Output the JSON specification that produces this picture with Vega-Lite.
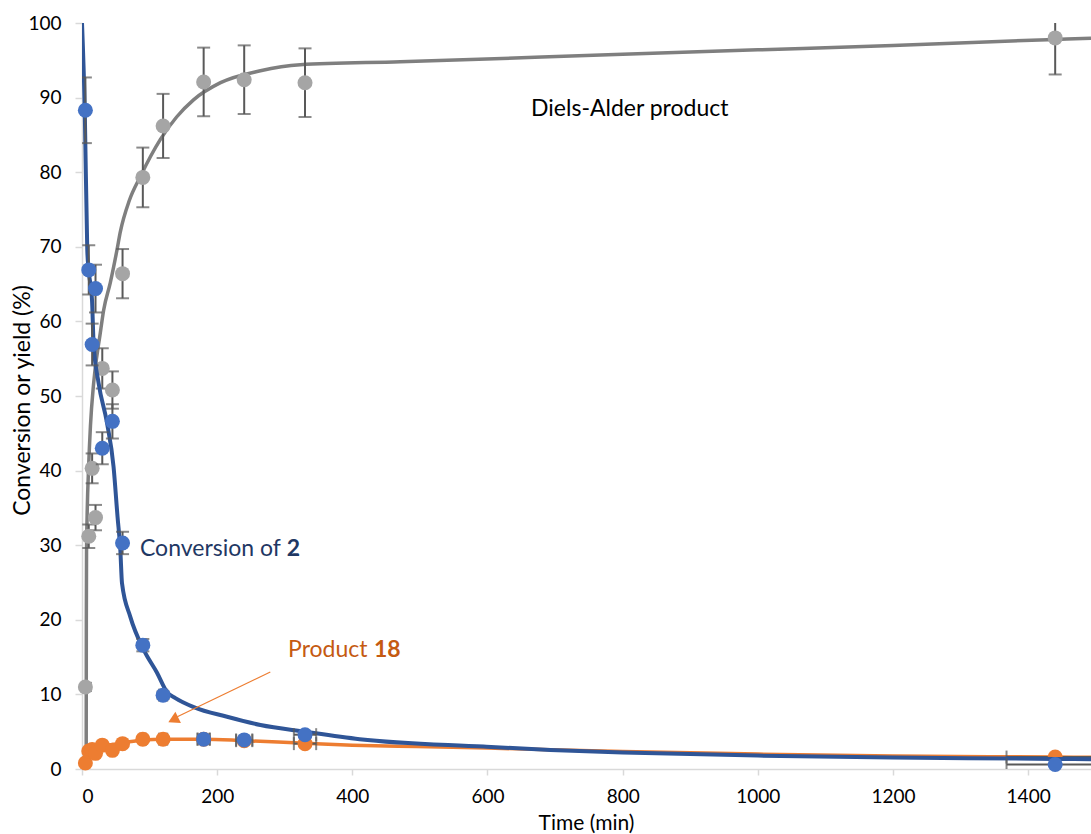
{
  "$schema": "https://vega.github.io/schema/vega-lite/v6.json",
  "width": 1009,
  "height": 746,
  "autosize": {"type": "none"},
  "padding": {"left": 82, "top": 23, "right": 0, "bottom": 65},
  "background": "white",
  "config": {"view": {"stroke": null}, "font": "Lato"},
  "datasets": {
    "pts": [
      {"s": "conv", "t": 5, "v": 88.3, "ye": 4.4, "xe": 0.25},
      {"s": "conv", "t": 10, "v": 66.9, "ye": 3.3, "xe": 0.5},
      {"s": "conv", "t": 15, "v": 56.9, "ye": 2.8, "xe": 0.75},
      {"s": "conv", "t": 20, "v": 64.4, "ye": 3.2, "xe": 1},
      {"s": "conv", "t": 30, "v": 43.0, "ye": 2.15, "xe": 1.5},
      {"s": "conv", "t": 45, "v": 46.6, "ye": 2.3, "xe": 2.25},
      {"s": "conv", "t": 60, "v": 30.3, "ye": 1.5, "xe": 3},
      {"s": "conv", "t": 90, "v": 16.6, "ye": 0.83, "xe": 4.5},
      {"s": "conv", "t": 120, "v": 9.9, "ye": 0.5, "xe": 6},
      {"s": "conv", "t": 180, "v": 4.0, "ye": 0.2, "xe": 9},
      {"s": "conv", "t": 240, "v": 3.9, "ye": 0.2, "xe": 12},
      {"s": "conv", "t": 330, "v": 4.6, "ye": 0.23, "xe": 16.5},
      {"s": "conv", "t": 1440, "v": 0.6, "ye": 0.03, "xe": 72},
      {"s": "DA", "t": 5, "v": 11.0, "ye": 0.55, "xe": 0},
      {"s": "DA", "t": 10, "v": 31.2, "ye": 1.56, "xe": 0},
      {"s": "DA", "t": 15, "v": 40.3, "ye": 2.0, "xe": 0},
      {"s": "DA", "t": 20, "v": 33.7, "ye": 1.7, "xe": 0},
      {"s": "DA", "t": 30, "v": 53.7, "ye": 2.7, "xe": 0},
      {"s": "DA", "t": 45, "v": 50.8, "ye": 2.5, "xe": 0},
      {"s": "DA", "t": 60, "v": 66.4, "ye": 3.3, "xe": 0},
      {"s": "DA", "t": 90, "v": 79.3, "ye": 4.0, "xe": 0},
      {"s": "DA", "t": 120, "v": 86.2, "ye": 4.3, "xe": 0},
      {"s": "DA", "t": 180, "v": 92.1, "ye": 4.6, "xe": 0},
      {"s": "DA", "t": 240, "v": 92.4, "ye": 4.6, "xe": 0},
      {"s": "DA", "t": 330, "v": 92.0, "ye": 4.6, "xe": 0},
      {"s": "DA", "t": 1440, "v": 98.0, "ye": 4.9, "xe": 0},
      {"s": "prod", "t": 5, "v": 0.8, "ye": 0.04, "xe": 0.25},
      {"s": "prod", "t": 10, "v": 2.4, "ye": 0.12, "xe": 0.5},
      {"s": "prod", "t": 15, "v": 2.6, "ye": 0.13, "xe": 0.75},
      {"s": "prod", "t": 20, "v": 2.1, "ye": 0.1, "xe": 1},
      {"s": "prod", "t": 30, "v": 3.2, "ye": 0.16, "xe": 1.5},
      {"s": "prod", "t": 45, "v": 2.5, "ye": 0.12, "xe": 2.25},
      {"s": "prod", "t": 60, "v": 3.4, "ye": 0.17, "xe": 3},
      {"s": "prod", "t": 90, "v": 4.0, "ye": 0.2, "xe": 4.5},
      {"s": "prod", "t": 120, "v": 4.0, "ye": 0.2, "xe": 6},
      {"s": "prod", "t": 180, "v": 4.0, "ye": 0.2, "xe": 9},
      {"s": "prod", "t": 240, "v": 3.8, "ye": 0.19, "xe": 12},
      {"s": "prod", "t": 330, "v": 3.4, "ye": 0.17, "xe": 16.5},
      {"s": "prod", "t": 1440, "v": 1.6, "ye": 0.08, "xe": 72}
    ],
    "fit": [
      {"s": "conv", "t": 0, "v": 100},
      {"s": "conv", "t": 4.1, "v": 88.2},
      {"s": "conv", "t": 7.8, "v": 69.6},
      {"s": "conv", "t": 9.8, "v": 66.9},
      {"s": "conv", "t": 14.8, "v": 62.9},
      {"s": "conv", "t": 17.2, "v": 57.0},
      {"s": "conv", "t": 24.6, "v": 51.7},
      {"s": "conv", "t": 37, "v": 46.4},
      {"s": "conv", "t": 46.7, "v": 40.5},
      {"s": "conv", "t": 52.6, "v": 33.8},
      {"s": "conv", "t": 56.7, "v": 29.4},
      {"s": "conv", "t": 59.2, "v": 24.9},
      {"s": "conv", "t": 71.5, "v": 20.4},
      {"s": "conv", "t": 91.2, "v": 16.0},
      {"s": "conv", "t": 111, "v": 12.9},
      {"s": "conv", "t": 125.9, "v": 10.3},
      {"s": "conv", "t": 138.2, "v": 9.5},
      {"s": "conv", "t": 165.3, "v": 8.3},
      {"s": "conv", "t": 214.7, "v": 7.0},
      {"s": "conv", "t": 264, "v": 5.9},
      {"s": "conv", "t": 330, "v": 5.0},
      {"s": "conv", "t": 411, "v": 4.0},
      {"s": "conv", "t": 594, "v": 3.0},
      {"s": "conv", "t": 693, "v": 2.55},
      {"s": "conv", "t": 800, "v": 2.2},
      {"s": "conv", "t": 1000, "v": 1.8},
      {"s": "conv", "t": 1200, "v": 1.55},
      {"s": "conv", "t": 1440, "v": 1.35},
      {"s": "conv", "t": 1493, "v": 1.3},
      {"s": "DA", "t": 6.2, "v": 0},
      {"s": "DA", "t": 6.4, "v": 20},
      {"s": "DA", "t": 6.7, "v": 29},
      {"s": "DA", "t": 7.6, "v": 34},
      {"s": "DA", "t": 9.8, "v": 40.5},
      {"s": "DA", "t": 12.5, "v": 46},
      {"s": "DA", "t": 17.2, "v": 51.7},
      {"s": "DA", "t": 27, "v": 58.4},
      {"s": "DA", "t": 32, "v": 61.5},
      {"s": "DA", "t": 41.9, "v": 65.2},
      {"s": "DA", "t": 51.8, "v": 69.6},
      {"s": "DA", "t": 56.7, "v": 72},
      {"s": "DA", "t": 70, "v": 76.2},
      {"s": "DA", "t": 86.2, "v": 79.4},
      {"s": "DA", "t": 116, "v": 84.4},
      {"s": "DA", "t": 140, "v": 87.4},
      {"s": "DA", "t": 165, "v": 89.7},
      {"s": "DA", "t": 205, "v": 92.0},
      {"s": "DA", "t": 264, "v": 93.6},
      {"s": "DA", "t": 323, "v": 94.4},
      {"s": "DA", "t": 471, "v": 94.8},
      {"s": "DA", "t": 800, "v": 95.8},
      {"s": "DA", "t": 1000, "v": 96.4},
      {"s": "DA", "t": 1200, "v": 97.0},
      {"s": "DA", "t": 1440, "v": 97.8},
      {"s": "DA", "t": 1493, "v": 97.95},
      {"s": "prod", "t": 3, "v": 0},
      {"s": "prod", "t": 5, "v": 1.0},
      {"s": "prod", "t": 8, "v": 2.0},
      {"s": "prod", "t": 12, "v": 2.6},
      {"s": "prod", "t": 20, "v": 2.9},
      {"s": "prod", "t": 30, "v": 3.1},
      {"s": "prod", "t": 45, "v": 3.3},
      {"s": "prod", "t": 60, "v": 3.5},
      {"s": "prod", "t": 90, "v": 3.9},
      {"s": "prod", "t": 120, "v": 4.0},
      {"s": "prod", "t": 180, "v": 4.0},
      {"s": "prod", "t": 240, "v": 3.8},
      {"s": "prod", "t": 330, "v": 3.45},
      {"s": "prod", "t": 400, "v": 3.2},
      {"s": "prod", "t": 495, "v": 3.0},
      {"s": "prod", "t": 600, "v": 2.8},
      {"s": "prod", "t": 800, "v": 2.35},
      {"s": "prod", "t": 1000, "v": 2.0},
      {"s": "prod", "t": 1200, "v": 1.75},
      {"s": "prod", "t": 1440, "v": 1.6},
      {"s": "prod", "t": 1493, "v": 1.57}
    ],
    "labels": [
      {"g": "da", "txt": "Diels-Alder product", "t": 664.5, "v": 87.5},
      {"g": "conv", "txt": "Conversion of", "t": 85.8, "v": 28.55},
      {"g": "convb", "txt": "2", "t": 303, "v": 28.55},
      {"g": "prod", "txt": "Product", "t": 304.9, "v": 15.0},
      {"g": "prodb", "txt": "18", "t": 432, "v": 15.0}
    ],
    "arrow": [
      {"t": 278.6, "v": 13.0},
      {"t": 141, "v": 7.0}
    ],
    "head": [
      {"t": 135, "v": 6.6}
    ]
  },
  "encoding": {
    "x": {
      "field": "t", "type": "quantitative",
      "scale": {"domain": [0, 1493], "nice": false, "zero": false},
      "title": "Time (min)",
      "axis": {
        "values": [0, 200, 400, 600, 800, 1000, 1200, 1400],
        "format": "d",
        "grid": false,
        "domainColor": "#d9d9d9", "domainWidth": 1.5,
        "tickColor": "#d9d9d9", "tickWidth": 1.5, "tickSize": 6,
        "labelFontSize": 19, "labelColor": "#000000", "labelPadding": 12,
        "labelFont": "Lato",
        "titleFontSize": 21, "titleColor": "#000000", "titleFontWeight": "normal",
        "titleFont": "Lato",
        "titleX": 504, "titleY": 60, "titleAlign": "center", "titleBaseline": "alphabetic"
      }
    },
    "y": {
      "field": "v", "type": "quantitative",
      "scale": {"domain": [0, 100], "nice": false},
      "title": "Conversion or yield (%)",
      "axis": {
        "values": [0, 10, 20, 30, 40, 50, 60, 70, 80, 90, 100],
        "grid": false,
        "domainColor": "#d9d9d9", "domainWidth": 1.5,
        "tickColor": "#d9d9d9", "tickWidth": 1.5, "tickSize": 7,
        "labelFontSize": 19, "labelColor": "#000000", "labelPadding": 14,
        "labelFont": "Lato",
        "titleFontSize": 23, "titleColor": "#000000", "titleFontWeight": "normal",
        "titleFont": "Lato",
        "titleX": -60, "titleY": 377, "titleAngle": -90,
        "titleAlign": "center", "titleBaseline": "middle"
      }
    }
  },
  "layer": [
    {
      "data": {"name": "fit"},
      "transform": [{"filter": "datum.s === 'DA'"}],
      "mark": {"type": "line", "color": "#7F7F7F", "strokeWidth": 3.5, "interpolate": "monotone", "clip": true}
    },
    {
      "data": {"name": "pts"},
      "transform": [{"filter": "datum.s === 'DA'"}],
      "mark": {"type": "errorbar", "ticks": true, "size": 13, "thickness": 2, "color": "#595959", "clip": true},
      "encoding": {"yError": {"field": "ye"}}
    },
    {
      "data": {"name": "pts"},
      "transform": [{"filter": "datum.s === 'DA'"}],
      "mark": {"type": "point", "filled": true, "opacity": 1, "size": 225, "color": "#A5A5A5"}
    },
    {
      "data": {"name": "fit"},
      "transform": [{"filter": "datum.s === 'prod'"}],
      "mark": {"type": "line", "color": "#ED7D31", "strokeWidth": 3.5, "interpolate": "monotone", "clip": true}
    },
    {
      "data": {"name": "pts"},
      "transform": [{"filter": "datum.s === 'prod'"}],
      "mark": {"type": "errorbar", "ticks": true, "size": 13, "thickness": 2, "color": "#595959", "clip": true},
      "encoding": {"xError": {"field": "xe"}}
    },
    {
      "data": {"name": "pts"},
      "transform": [{"filter": "datum.s === 'prod'"}],
      "mark": {"type": "point", "filled": true, "opacity": 1, "size": 225, "color": "#ED7D31"}
    },
    {
      "data": {"name": "fit"},
      "transform": [{"filter": "datum.s === 'conv'"}],
      "mark": {"type": "line", "color": "#2F5597", "strokeWidth": 4, "interpolate": "monotone", "clip": true}
    },
    {
      "data": {"name": "pts"},
      "transform": [{"filter": "datum.s === 'conv'"}],
      "mark": {"type": "errorbar", "ticks": true, "size": 13, "thickness": 2, "color": "#595959", "clip": true},
      "encoding": {"yError": {"field": "ye"}}
    },
    {
      "data": {"name": "pts"},
      "transform": [{"filter": "datum.s === 'conv'"}],
      "mark": {"type": "errorbar", "ticks": true, "size": 13, "thickness": 2, "color": "#595959", "clip": true},
      "encoding": {"xError": {"field": "xe"}}
    },
    {
      "data": {"name": "pts"},
      "transform": [{"filter": "datum.s === 'conv'"}],
      "mark": {"type": "point", "filled": true, "opacity": 1, "size": 225, "color": "#4472C4"}
    },
    {
      "data": {"name": "arrow"},
      "mark": {"type": "line", "color": "#ED7D31", "strokeWidth": 1.2}
    },
    {
      "data": {"name": "head"},
      "mark": {"type": "point", "shape": "triangle-up", "filled": true, "opacity": 1, "size": 160, "angle": 244, "color": "#ED7D31"}
    },
    {
      "data": {"name": "labels"},
      "transform": [{"filter": "datum.g === 'da'"}],
      "mark": {"type": "text", "align": "left", "baseline": "alphabetic", "fontSize": 23, "font": "Lato", "color": "#000000"},
      "encoding": {"text": {"field": "txt"}}
    },
    {
      "data": {"name": "labels"},
      "transform": [{"filter": "datum.g === 'conv'"}],
      "mark": {"type": "text", "align": "left", "baseline": "alphabetic", "fontSize": 23, "font": "Lato", "color": "#1F3864"},
      "encoding": {"text": {"field": "txt"}}
    },
    {
      "data": {"name": "labels"},
      "transform": [{"filter": "datum.g === 'convb'"}],
      "mark": {"type": "text", "align": "left", "baseline": "alphabetic", "fontSize": 23, "font": "Lato", "fontWeight": "bold", "color": "#1F3864"},
      "encoding": {"text": {"field": "txt"}}
    },
    {
      "data": {"name": "labels"},
      "transform": [{"filter": "datum.g === 'prod'"}],
      "mark": {"type": "text", "align": "left", "baseline": "alphabetic", "fontSize": 23, "font": "Lato", "color": "#C55A11"},
      "encoding": {"text": {"field": "txt"}}
    },
    {
      "data": {"name": "labels"},
      "transform": [{"filter": "datum.g === 'prodb'"}],
      "mark": {"type": "text", "align": "left", "baseline": "alphabetic", "fontSize": 23, "font": "Lato", "fontWeight": "bold", "color": "#C55A11"},
      "encoding": {"text": {"field": "txt"}}
    }
  ]
}
